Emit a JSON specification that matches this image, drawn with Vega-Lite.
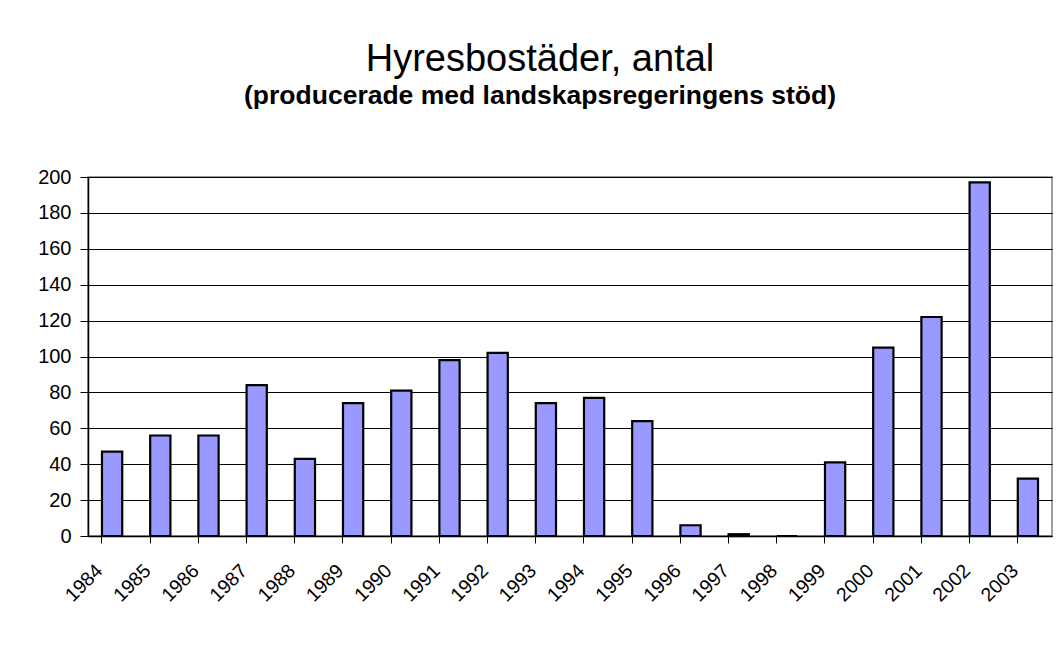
{
  "$schema": "https://vega.github.io/schema/vega-lite/v6.json",
  "autosize": {"type": "none"},
  "padding": {"left": 88, "top": 177, "right": 8, "bottom": 128},
  "width": 964,
  "height": 359,
  "background": "white",
  "title": {
    "text": "Hyresbostäder, antal",
    "subtitle": "(producerade med landskapsregeringens stöd)",
    "anchor": "middle",
    "dx": -30,
    "offset": 58,
    "font": "Liberation Sans",
    "fontSize": 38,
    "fontWeight": "normal",
    "color": "black",
    "subtitleFont": "Liberation Sans",
    "subtitleFontSize": 26.5,
    "subtitleFontWeight": "bold",
    "subtitleColor": "black",
    "subtitlePadding": 4
  },
  "data": {
    "values": [
      {"year": "1984", "antal": 47},
      {"year": "1985", "antal": 56},
      {"year": "1986", "antal": 56},
      {"year": "1987", "antal": 84},
      {"year": "1988", "antal": 43},
      {"year": "1989", "antal": 74},
      {"year": "1990", "antal": 81},
      {"year": "1991", "antal": 98},
      {"year": "1992", "antal": 102},
      {"year": "1993", "antal": 74},
      {"year": "1994", "antal": 77},
      {"year": "1995", "antal": 64},
      {"year": "1996", "antal": 6},
      {"year": "1997", "antal": 1},
      {"year": "1998", "antal": 0},
      {"year": "1999", "antal": 41},
      {"year": "2000", "antal": 105},
      {"year": "2001", "antal": 122},
      {"year": "2002", "antal": 197},
      {"year": "2003", "antal": 32}
    ]
  },
  "mark": {"type": "bar", "fill": "#9999FF", "stroke": "black", "strokeWidth": 2.2},
  "encoding": {
    "x": {
      "field": "year",
      "type": "ordinal",
      "sort": null,
      "scale": {"paddingInner": 0.58, "paddingOuter": 0.29},
      "axis": {
        "title": null,
        "bandPosition": 0,
        "labelAngle": -45,
        "labelAlign": "right",
        "labelBaseline": "top",
        "labelFont": "Liberation Sans",
        "labelFontSize": 19.5,
        "labelColor": "black",
        "labelPadding": 18,
        "labelOffset": -19,
        "tickColor": "black",
        "tickSize": 7,
        "domainColor": "black",
        "domainWidth": 1.5,
        "grid": false
      }
    },
    "y": {
      "field": "antal",
      "type": "quantitative",
      "scale": {"domain": [0, 200], "nice": false},
      "axis": {
        "title": null,
        "values": [0, 20, 40, 60, 80, 100, 120, 140, 160, 180, 200],
        "labelFont": "Liberation Sans",
        "labelFontSize": 20,
        "labelColor": "black",
        "labelPadding": 9,
        "tickColor": "black",
        "tickSize": 8,
        "domainColor": "black",
        "domainWidth": 1.5,
        "grid": true,
        "gridColor": "black",
        "gridWidth": 1
      }
    }
  },
  "config": {
    "view": {"stroke": "#808080", "strokeWidth": 1.5}
  }
}
